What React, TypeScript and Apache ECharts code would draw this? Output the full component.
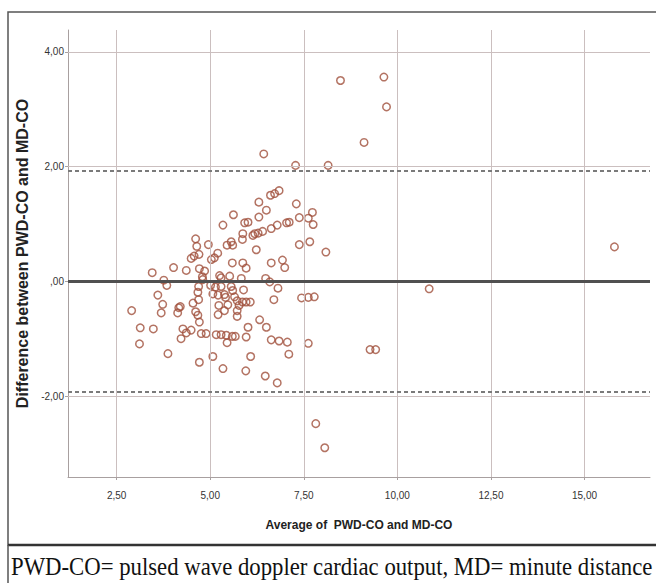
import React, { useEffect, useRef } from "react";
import * as echarts from "echarts";

// Bland-Altman points: [average, difference]
const averages = [
  6.84, 6.72, 6.61, 6.30, 7.30, 5.62, 6.50, 6.30, 5.92, 6.01,
  5.34, 6.40, 6.28, 6.14, 6.19, 6.63, 6.79, 7.04, 7.11, 7.38,
  7.62, 7.73, 7.75, 5.87, 5.86, 5.56, 5.45, 5.60, 4.61, 4.64,
  4.70, 4.95, 5.20, 5.03, 5.11, 4.49, 4.57, 4.02, 4.36, 3.45,
  4.71, 4.85, 5.59, 5.87, 5.96, 6.23, 6.63, 6.93, 6.99, 7.38,
  7.66, 8.09, 5.25, 5.29, 5.52, 5.83, 4.79, 4.80, 6.48, 6.59,
  6.81, 6.70, 7.44, 7.62, 7.78, 6.32, 6.50, 6.63, 6.84, 7.06,
  7.62, 7.10, 6.47, 6.79, 3.76, 3.84, 3.60, 3.73, 3.69, 2.90,
  3.13, 3.11, 3.48, 3.87, 4.16, 4.20, 4.13, 4.54, 4.61, 4.67,
  4.71, 4.27, 4.36, 4.22, 4.49, 4.76, 4.89, 4.71, 5.07, 5.34,
  5.95, 6.08, 5.96, 6.01, 5.16, 5.29, 5.43, 5.45, 5.59, 5.67,
  5.01, 5.07, 5.14, 5.21, 5.29, 5.38, 5.23, 5.21, 5.38, 5.41,
  5.47, 5.56, 5.60, 5.65, 5.72, 5.77, 5.72, 5.72, 5.86, 5.96,
  6.07, 5.89, 4.69, 4.67, 4.69, 7.28, 8.15, 9.11, 6.43, 8.48,
  9.64, 9.71, 15.80, 10.85, 9.27, 9.42, 7.82, 8.06,
];
const differences = [
  1.58, 1.53, 1.50, 1.38, 1.35, 1.16, 1.24, 1.12, 1.02, 1.03,
  0.98, 0.87, 0.84, 0.80, 0.83, 0.92, 0.98, 1.02, 1.03, 1.11,
  1.10, 1.20, 0.99, 0.83, 0.73, 0.69, 0.63, 0.63, 0.74, 0.61,
  0.47, 0.64, 0.49, 0.38, 0.41, 0.40, 0.44, 0.24, 0.19, 0.15,
  0.22, 0.18, 0.32, 0.32, 0.23, 0.55, 0.32, 0.37, 0.24, 0.64,
  0.69, 0.51, 0.10, 0.06, 0.09, 0.05, 0.08, 0.03, 0.05, -0.01,
  -0.12, -0.32, -0.29, -0.28, -0.27, -0.67, -0.80, -1.02, -1.04, -1.06,
  -1.08, -1.27, -1.65, -1.77, 0.02, -0.07, -0.24, -0.40, -0.55, -0.51,
  -0.81, -1.09, -0.83, -1.26, -0.46, -0.44, -0.55, -0.38, -0.53, -0.59,
  -0.71, -0.83, -0.90, -1.00, -0.85, -0.91, -0.91, -1.41, -1.31, -1.52,
  -1.56, -1.31, -0.97, -0.80, -0.93, -0.93, -0.94, -1.07, -0.96, -0.96,
  -0.07, -0.22, -0.10, -0.24, -0.09, -0.23, -0.42, -0.58, -0.51, -0.28,
  -0.41, -0.09, -0.16, -0.27, -0.34, -0.42, -0.51, -0.61, -0.36, -0.36,
  -0.36, -0.15, -0.09, -0.19, -0.32, 2.02, 2.02, 2.42, 2.22, 3.50,
  3.56, 3.04, 0.60, -0.13, -1.19, -1.19, -2.48, -2.90,
];

const xTicks = [2.5, 5, 7.5, 10, 12.5, 15];
const yTicks = [-2, 0, 2, 4];
const meanDiff = 0.0;
const upperLimit = 1.93;
const lowerLimit = -1.93;

const xTitle = "Average of  PWD-CO and MD-CO";
const yTitle = "Difference between PWD-CO and MD-CO";
const caption = "PWD-CO= pulsed wave doppler cardiac output, MD= minute distance";

const fmt = (v: number) => {
  if (v === 0) return ",00";
  return v.toFixed(2).replace(".", ",");
};

export default function App() {
  const ref = useRef<HTMLDivElement>(null);
  useEffect(() => {
    if (!ref.current) return;
    const chart = echarts.init(ref.current, null, { renderer: "svg" });
    const points = averages.map((a, i) => [a, differences[i]]);
    const gridColor = "#cbbfbf";
    const labelFont = "'Liberation Sans Narrow', 'Liberation Sans', Arial, sans-serif";
    chart.setOption({
      animation: false,
      backgroundColor: "#ffffff",
      grid: { left: 68, right: 6, top: 30, bottom: 106, containLabel: false },
      xAxis: {
        type: "value",
        min: 1.2,
        max: 16.75,
        splitLine: { show: false },
        axisLine: { show: true, onZero: false, lineStyle: { color: "#a8a0a0", width: 1 } },
        axisTick: { show: true, customValues: xTicks, length: 3, lineStyle: { color: "#a8a0a0" } },
        axisLabel: {
          customValues: xTicks,
          formatter: (v: number) => fmt(v),
          color: "#333",
          fontSize: 10,
          fontFamily: labelFont,
          margin: 13,
        },
        name: xTitle,
        nameLocation: "middle",
        nameGap: 42,
        nameTextStyle: {
          fontSize: 12,
          fontWeight: "bold",
          color: "#222",
          fontFamily: labelFont,
        },
      },
      yAxis: {
        type: "value",
        min: -3.41,
        max: 4.38,
        splitLine: { show: false },
        axisLine: { show: true, onZero: false, lineStyle: { color: "#a8a0a0", width: 1 } },
        axisTick: { show: true, customValues: yTicks, length: 3, lineStyle: { color: "#a8a0a0" } },
        axisLabel: {
          customValues: yTicks,
          formatter: (v: number) => fmt(v),
          color: "#333",
          fontSize: 10,
          fontFamily: labelFont,
          margin: 4,
        },
        name: yTitle,
        nameLocation: "middle",
        nameGap: 35,
        nameTextStyle: {
          fontSize: 16,
          fontWeight: "bold",
          color: "#222",
          fontFamily: "'Liberation Sans', Arial, sans-serif",
        },
      },
      series: [
        {
          type: "scatter",
          data: [],
          z: 1,
          silent: true,
          markLine: {
            silent: true,
            symbol: "none",
            label: { show: false },
            lineStyle: { color: gridColor, width: 1, type: "solid" },
            data: [
              ...xTicks.map((v) => ({ xAxis: v })),
              ...yTicks.map((v) => ({ yAxis: v })),
            ],
          },
        },
        {
          type: "scatter",
          data: [],
          z: 2,
          silent: true,
          markLine: {
            silent: true,
            symbol: "none",
            label: { show: false },
            data: [
              { yAxis: meanDiff, lineStyle: { color: "#505050", width: 3, type: "solid" } },
              { yAxis: upperLimit, lineStyle: { color: "#7a7a7a", width: 2.2, type: [4, 3] } },
              { yAxis: lowerLimit, lineStyle: { color: "#7a7a7a", width: 2.2, type: [4, 3] } },
            ],
          },
        },
        {
          type: "scatter",
          z: 3,
          data: points,
          symbol: "circle",
          symbolSize: 7.5,
          itemStyle: {
            color: "rgba(0,0,0,0)",
            borderColor: "#a0503c",
            borderWidth: 1.5,
          },
        },
      ],
      graphic: [
        {
          type: "rect",
          shape: { x: 8, y: 12, width: 660, height: 533 },
          style: { fill: "none", stroke: "#555", lineWidth: 1.5 },
          silent: true,
        },
        {
          type: "line",
          shape: { x1: 8, y1: 545, x2: 656, y2: 545 },
          style: { stroke: "#333", lineWidth: 2.5 },
          silent: true,
        },
        {
          type: "line",
          shape: { x1: 8, y1: 545, x2: 8, y2: 583 },
          style: { stroke: "#555", lineWidth: 1.5 },
          silent: true,
        },
        {
          type: "text",
          x: 11,
          y: 579,
          scaleX: 0.91,
          style: {
            text: caption,
            font: "25px 'Liberation Serif', 'Times New Roman', serif",
            fill: "#111",
            textVerticalAlign: "bottom",
          },
          silent: true,
        },
      ],
    });
    return () => chart.dispose();
  }, []);
  return (
    <div
      ref={ref}
      style={{ position: "fixed", left: 0, top: 0, width: 656, height: 583 }}
    />
  );
}
